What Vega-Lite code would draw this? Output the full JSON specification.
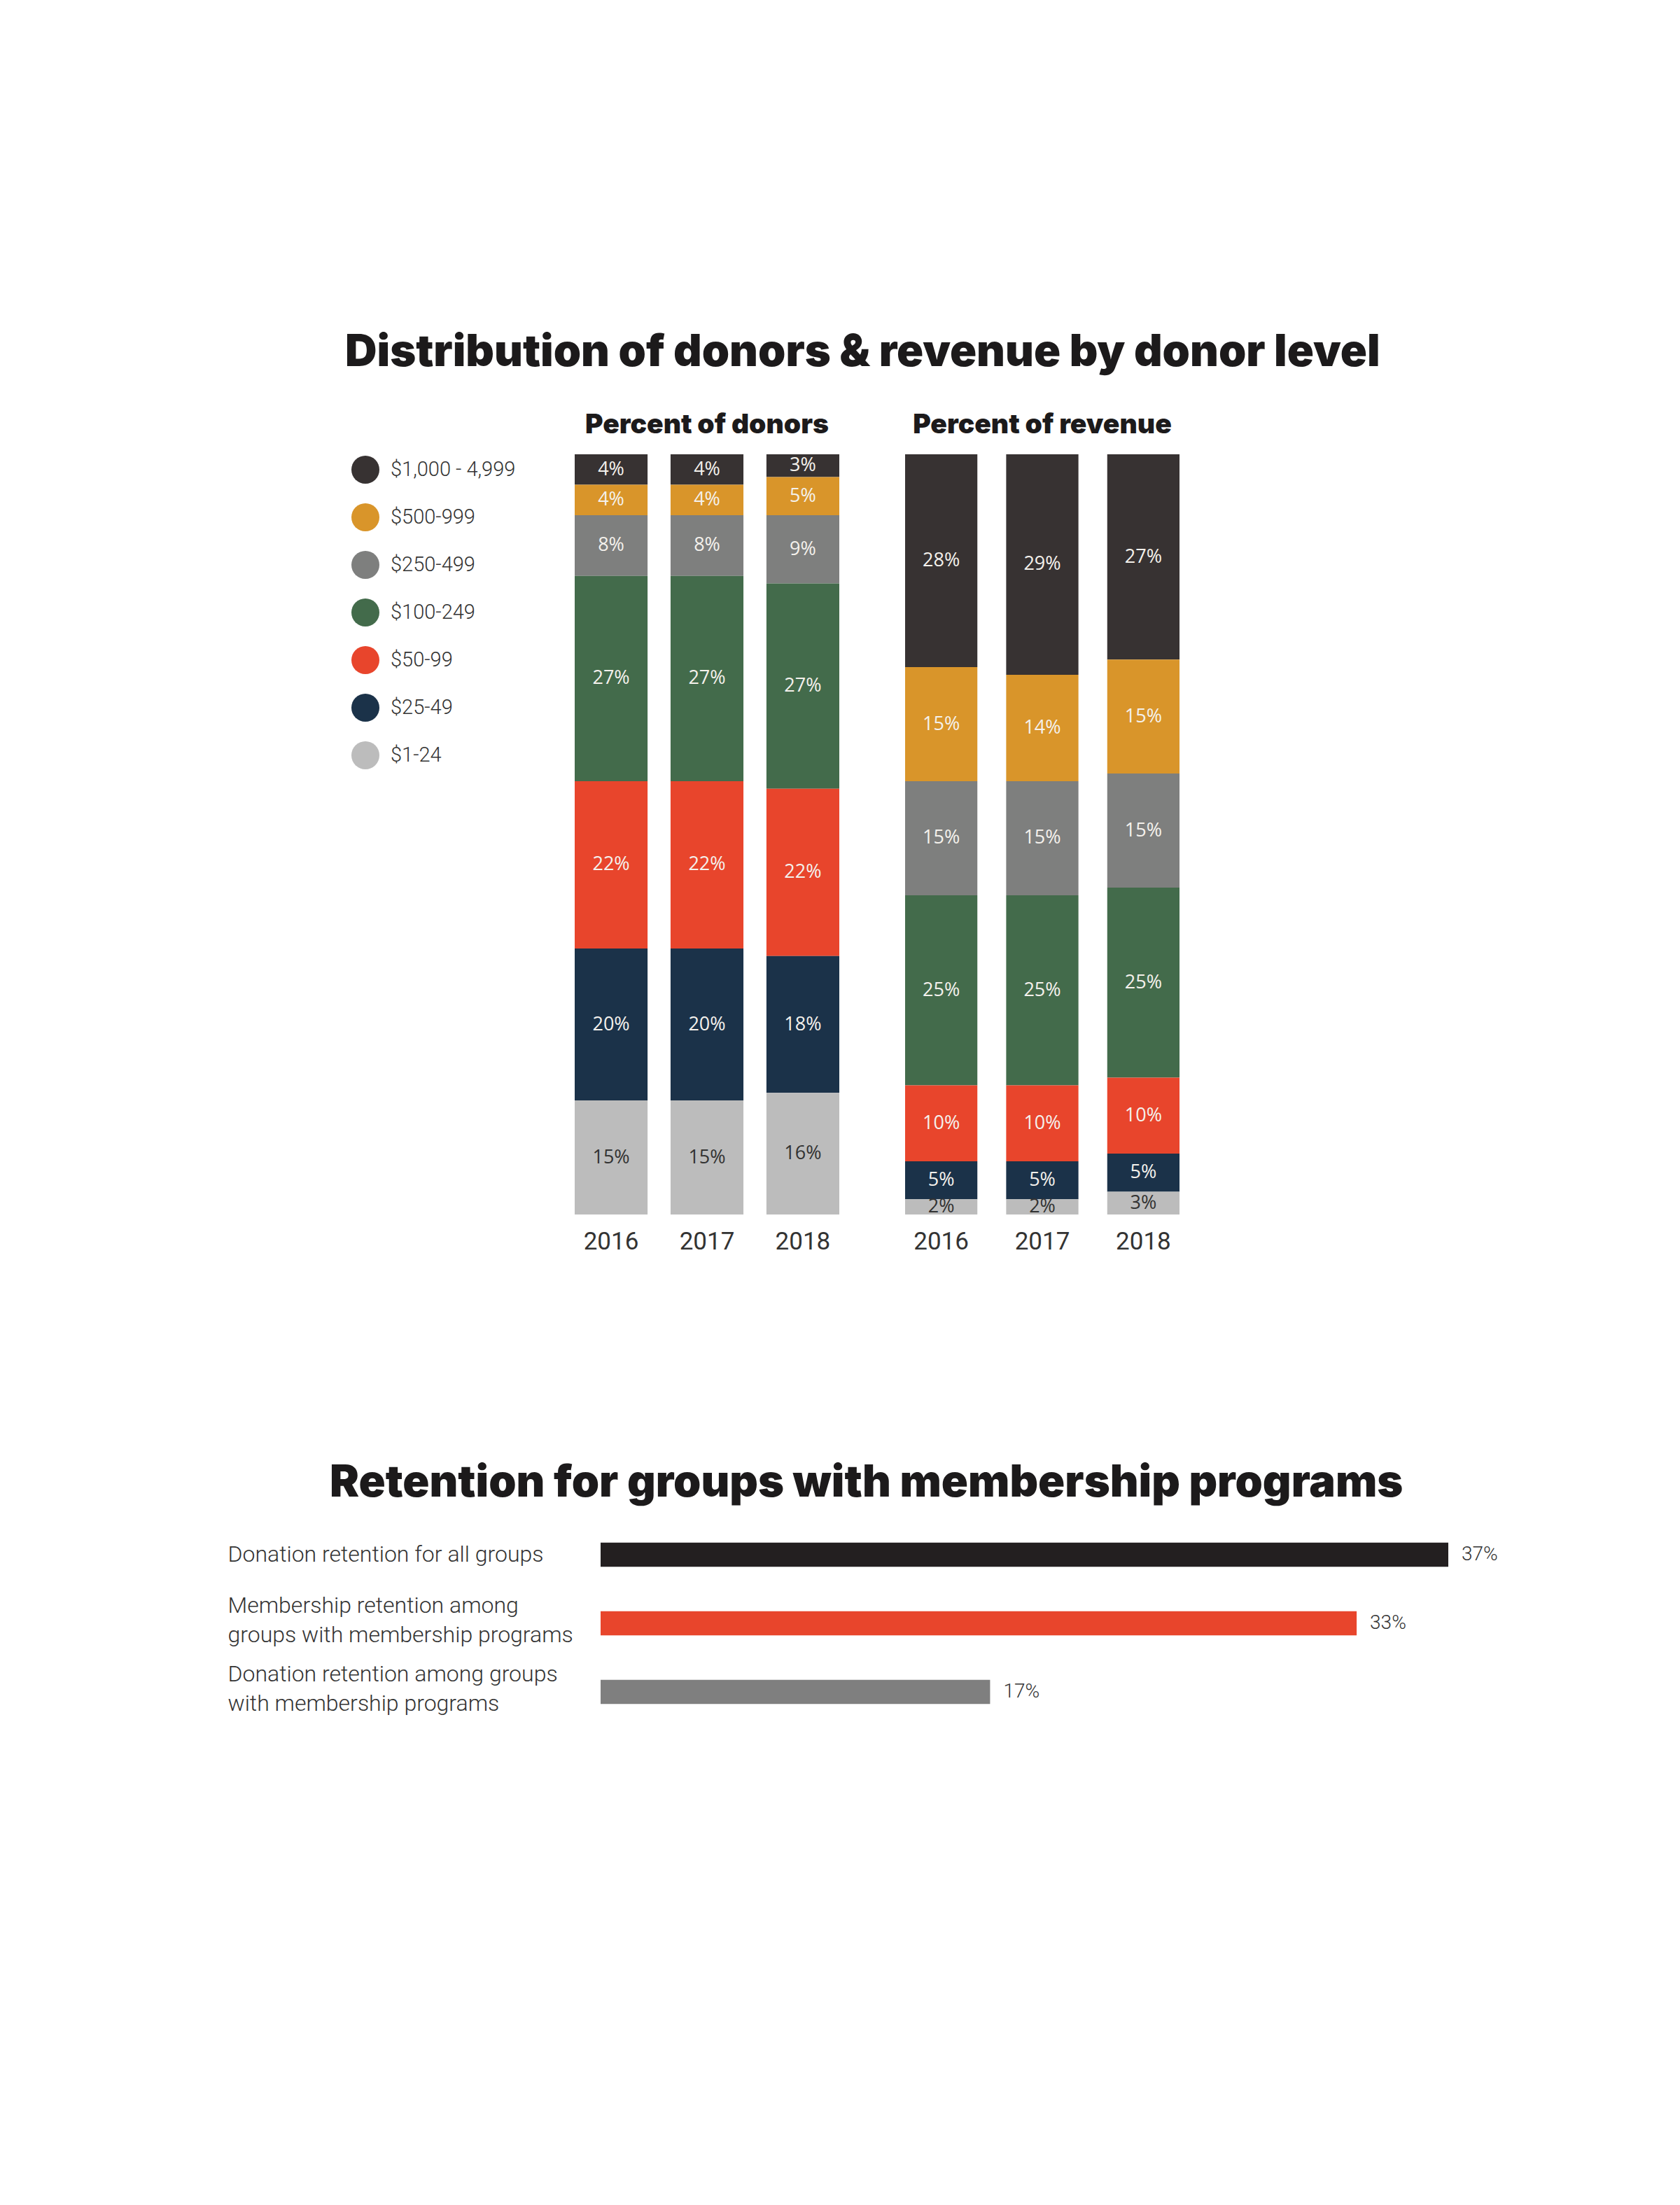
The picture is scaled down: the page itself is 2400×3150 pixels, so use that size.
{
  "$schema": "https://vega.github.io/schema/vega-lite/v6.json",
  "background": "white",
  "padding": {"left": 325, "top": 473, "right": 0, "bottom": 0},
  "autosize": {"type": "pad"},
  "config": {"view": {"stroke": null}, "font": "Roboto"},
  "datasets": {
    "stack": [
      {"panel": "donors", "year": "2016", "level": "$1,000 - 4,999", "tier": 7, "value": 0.04},
      {"panel": "donors", "year": "2016", "level": "$500-999", "tier": 6, "value": 0.04},
      {"panel": "donors", "year": "2016", "level": "$250-499", "tier": 5, "value": 0.08},
      {"panel": "donors", "year": "2016", "level": "$100-249", "tier": 4, "value": 0.27},
      {"panel": "donors", "year": "2016", "level": "$50-99", "tier": 3, "value": 0.22},
      {"panel": "donors", "year": "2016", "level": "$25-49", "tier": 2, "value": 0.20},
      {"panel": "donors", "year": "2016", "level": "$1-24", "tier": 1, "value": 0.15},
      {"panel": "donors", "year": "2017", "level": "$1,000 - 4,999", "tier": 7, "value": 0.04},
      {"panel": "donors", "year": "2017", "level": "$500-999", "tier": 6, "value": 0.04},
      {"panel": "donors", "year": "2017", "level": "$250-499", "tier": 5, "value": 0.08},
      {"panel": "donors", "year": "2017", "level": "$100-249", "tier": 4, "value": 0.27},
      {"panel": "donors", "year": "2017", "level": "$50-99", "tier": 3, "value": 0.22},
      {"panel": "donors", "year": "2017", "level": "$25-49", "tier": 2, "value": 0.20},
      {"panel": "donors", "year": "2017", "level": "$1-24", "tier": 1, "value": 0.15},
      {"panel": "donors", "year": "2018", "level": "$1,000 - 4,999", "tier": 7, "value": 0.03},
      {"panel": "donors", "year": "2018", "level": "$500-999", "tier": 6, "value": 0.05},
      {"panel": "donors", "year": "2018", "level": "$250-499", "tier": 5, "value": 0.09},
      {"panel": "donors", "year": "2018", "level": "$100-249", "tier": 4, "value": 0.27},
      {"panel": "donors", "year": "2018", "level": "$50-99", "tier": 3, "value": 0.22},
      {"panel": "donors", "year": "2018", "level": "$25-49", "tier": 2, "value": 0.18},
      {"panel": "donors", "year": "2018", "level": "$1-24", "tier": 1, "value": 0.16},
      {"panel": "revenue", "year": "2016", "level": "$1,000 - 4,999", "tier": 7, "value": 0.28},
      {"panel": "revenue", "year": "2016", "level": "$500-999", "tier": 6, "value": 0.15},
      {"panel": "revenue", "year": "2016", "level": "$250-499", "tier": 5, "value": 0.15},
      {"panel": "revenue", "year": "2016", "level": "$100-249", "tier": 4, "value": 0.25},
      {"panel": "revenue", "year": "2016", "level": "$50-99", "tier": 3, "value": 0.10},
      {"panel": "revenue", "year": "2016", "level": "$25-49", "tier": 2, "value": 0.05},
      {"panel": "revenue", "year": "2016", "level": "$1-24", "tier": 1, "value": 0.02},
      {"panel": "revenue", "year": "2017", "level": "$1,000 - 4,999", "tier": 7, "value": 0.29},
      {"panel": "revenue", "year": "2017", "level": "$500-999", "tier": 6, "value": 0.14},
      {"panel": "revenue", "year": "2017", "level": "$250-499", "tier": 5, "value": 0.15},
      {"panel": "revenue", "year": "2017", "level": "$100-249", "tier": 4, "value": 0.25},
      {"panel": "revenue", "year": "2017", "level": "$50-99", "tier": 3, "value": 0.10},
      {"panel": "revenue", "year": "2017", "level": "$25-49", "tier": 2, "value": 0.05},
      {"panel": "revenue", "year": "2017", "level": "$1-24", "tier": 1, "value": 0.02},
      {"panel": "revenue", "year": "2018", "level": "$1,000 - 4,999", "tier": 7, "value": 0.27},
      {"panel": "revenue", "year": "2018", "level": "$500-999", "tier": 6, "value": 0.15},
      {"panel": "revenue", "year": "2018", "level": "$250-499", "tier": 5, "value": 0.15},
      {"panel": "revenue", "year": "2018", "level": "$100-249", "tier": 4, "value": 0.25},
      {"panel": "revenue", "year": "2018", "level": "$50-99", "tier": 3, "value": 0.10},
      {"panel": "revenue", "year": "2018", "level": "$25-49", "tier": 2, "value": 0.05},
      {"panel": "revenue", "year": "2018", "level": "$1-24", "tier": 1, "value": 0.03}
    ],
    "retention": [
      {"label": "Donation retention for all groups", "value": 0.37},
      {"label": "Membership retention among|groups with membership programs", "value": 0.33},
      {"label": "Donation retention among groups|with membership programs", "value": 0.17}
    ]
  },
  "resolve": {"scale": {"color": "independent"}, "legend": {"color": "independent"}},
  "spacing": 297,
  "vconcat": [
    {
      "title": {"text": "Distribution of donors & revenue by donor level", "font": "Inter", "fontWeight": 900, "fontSize": 63, "color": "#1c1a1b", "anchor": "start", "frame": "group", "dx": -328, "baseline": "alphabetic", "offset": 2},
      "spacing": 94,
      "resolve": {"scale": {"color": "shared"}, "legend": {"color": "shared"}},
      "hconcat": [
        {
          "width": 378,
          "height": 1086,
          "title": {"text": "Percent of donors", "font": "Inter", "fontWeight": 900, "fontSize": 39, "color": "#1c1a1b", "anchor": "middle", "baseline": "alphabetic", "offset": -9},
          "data": {"name": "stack"},
          "transform": [{"filter": "datum.panel === 'donors'"}],
          "encoding": {
            "x": {"field": "year", "type": "nominal", "scale": {"paddingInner": 0.24, "paddingOuter": 0},
              "axis": {"title": null, "domain": false, "ticks": false, "labelAngle": 0, "labelFont": "Roboto", "labelFontSize": 35, "labelColor": "#333333", "labelPadding": 21}}
          },
          "layer": [
            {
              "mark": {"type": "bar"},
              "encoding": {
                "y": {"field": "value", "type": "quantitative", "stack": "zero", "scale": {"domain": [0, 1]}, "axis": null},
                "order": {"field": "tier", "type": "quantitative", "sort": "ascending"},
                "color": {"field": "level", "type": "nominal",
                  "scale": {"domain": ["$1,000 - 4,999", "$500-999", "$250-499", "$100-249", "$50-99", "$25-49", "$1-24"],
                            "range": ["#373232", "#D9952A", "#7E7F7E", "#436B4B", "#E8452C", "#1B3249", "#BCBCBC"]},
                  "legend": {"orient": "none", "legendX": -319, "legendY": 2, "title": null, "symbolType": "circle", "symbolSize": 1600, "symbolStrokeWidth": 0, "symbolOpacity": 1, "labelFont": "Roboto", "labelFontWeight": 300, "labelFontSize": 29, "labelColor": "#333333", "labelOffset": 16, "rowPadding": 28, "padding": 0, "labelLimit": 400}}
              }
            },
            {
              "mark": {"type": "text", "font": "Open Sans", "fontSize": 27, "baseline": "middle"},
              "encoding": {
                "y": {"field": "value", "type": "quantitative", "stack": "zero", "bandPosition": 0.5, "scale": {"domain": [0, 1]}, "axis": null},
                "order": {"field": "tier", "type": "quantitative", "sort": "ascending"},
                "detail": {"field": "level", "type": "nominal"},
                "text": {"field": "value", "type": "quantitative", "format": ".0%"},
                "color": {"condition": {"test": "datum.level === '$1-24'", "value": "#333333"}, "value": "#F4F1EC"}
              }
            }
          ]
        },
        {
          "width": 392,
          "height": 1086,
          "title": {"text": "Percent of revenue", "font": "Inter", "fontWeight": 900, "fontSize": 39, "color": "#1c1a1b", "anchor": "middle", "baseline": "alphabetic", "offset": -9},
          "data": {"name": "stack"},
          "transform": [{"filter": "datum.panel === 'revenue'"}],
          "encoding": {
            "x": {"field": "year", "type": "nominal", "scale": {"paddingInner": 0.285, "paddingOuter": 0},
              "axis": {"title": null, "domain": false, "ticks": false, "labelAngle": 0, "labelFont": "Roboto", "labelFontSize": 35, "labelColor": "#333333", "labelPadding": 21}}
          },
          "layer": [
            {
              "mark": {"type": "bar"},
              "encoding": {
                "y": {"field": "value", "type": "quantitative", "stack": "zero", "scale": {"domain": [0, 1]}, "axis": null},
                "order": {"field": "tier", "type": "quantitative", "sort": "ascending"},
                "color": {"field": "level", "type": "nominal",
                  "scale": {"domain": ["$1,000 - 4,999", "$500-999", "$250-499", "$100-249", "$50-99", "$25-49", "$1-24"],
                            "range": ["#373232", "#D9952A", "#7E7F7E", "#436B4B", "#E8452C", "#1B3249", "#BCBCBC"]},
                  "legend": null}
              }
            },
            {
              "mark": {"type": "text", "font": "Open Sans", "fontSize": 27, "baseline": "middle"},
              "encoding": {
                "y": {"field": "value", "type": "quantitative", "stack": "zero", "bandPosition": 0.5, "scale": {"domain": [0, 1]}, "axis": null},
                "order": {"field": "tier", "type": "quantitative", "sort": "ascending"},
                "detail": {"field": "level", "type": "nominal"},
                "text": {"field": "value", "type": "quantitative", "format": ".0%"},
                "color": {"condition": {"test": "datum.level === '$1-24'", "value": "#333333"}, "value": "#F4F1EC"}
              }
            }
          ]
        }
      ]
    },
    {
      "width": 1300,
      "height": 294,
      "title": {"text": "Retention for groups with membership programs", "font": "Inter", "fontWeight": 900, "fontSize": 63, "color": "#1c1a1b", "anchor": "start", "frame": "group", "dx": -350, "baseline": "alphabetic", "offset": -29},
      "data": {"name": "retention"},
      "encoding": {
        "y": {"field": "label", "type": "nominal", "sort": null,
          "scale": {"paddingInner": 0.65, "paddingOuter": 0.325},
          "axis": {"title": null, "domain": false, "ticks": false, "labelAlign": "left", "labelPadding": 496, "labelFont": "Roboto", "labelFontWeight": 300, "labelFontSize": 32, "labelColor": "#333333", "labelExpr": "split(datum.label, '|')", "labelLineHeight": 42, "labelLimit": 0,
            "labelOffset": {"condition": {"test": "indexof(datum.value, '|') >= 0", "value": -25}, "value": 0}}},
        "x": {"field": "value", "type": "quantitative", "scale": {"domain": [0, 0.37], "range": [37, 1248]}, "axis": null}
      },
      "layer": [
        {
          "mark": {"type": "bar"},
          "encoding": {
            "color": {"field": "label", "type": "nominal", "sort": null, "scale": {"range": ["#231F20", "#E8452C", "#7F7F7F"]}, "legend": null}
          }
        },
        {
          "mark": {"type": "text", "align": "left", "baseline": "middle", "dx": 19, "font": "Roboto", "fontWeight": 300, "fontSize": 28, "color": "#333333"},
          "encoding": {
            "text": {"field": "value", "type": "quantitative", "format": ".0%"}
          }
        }
      ]
    }
  ]
}
